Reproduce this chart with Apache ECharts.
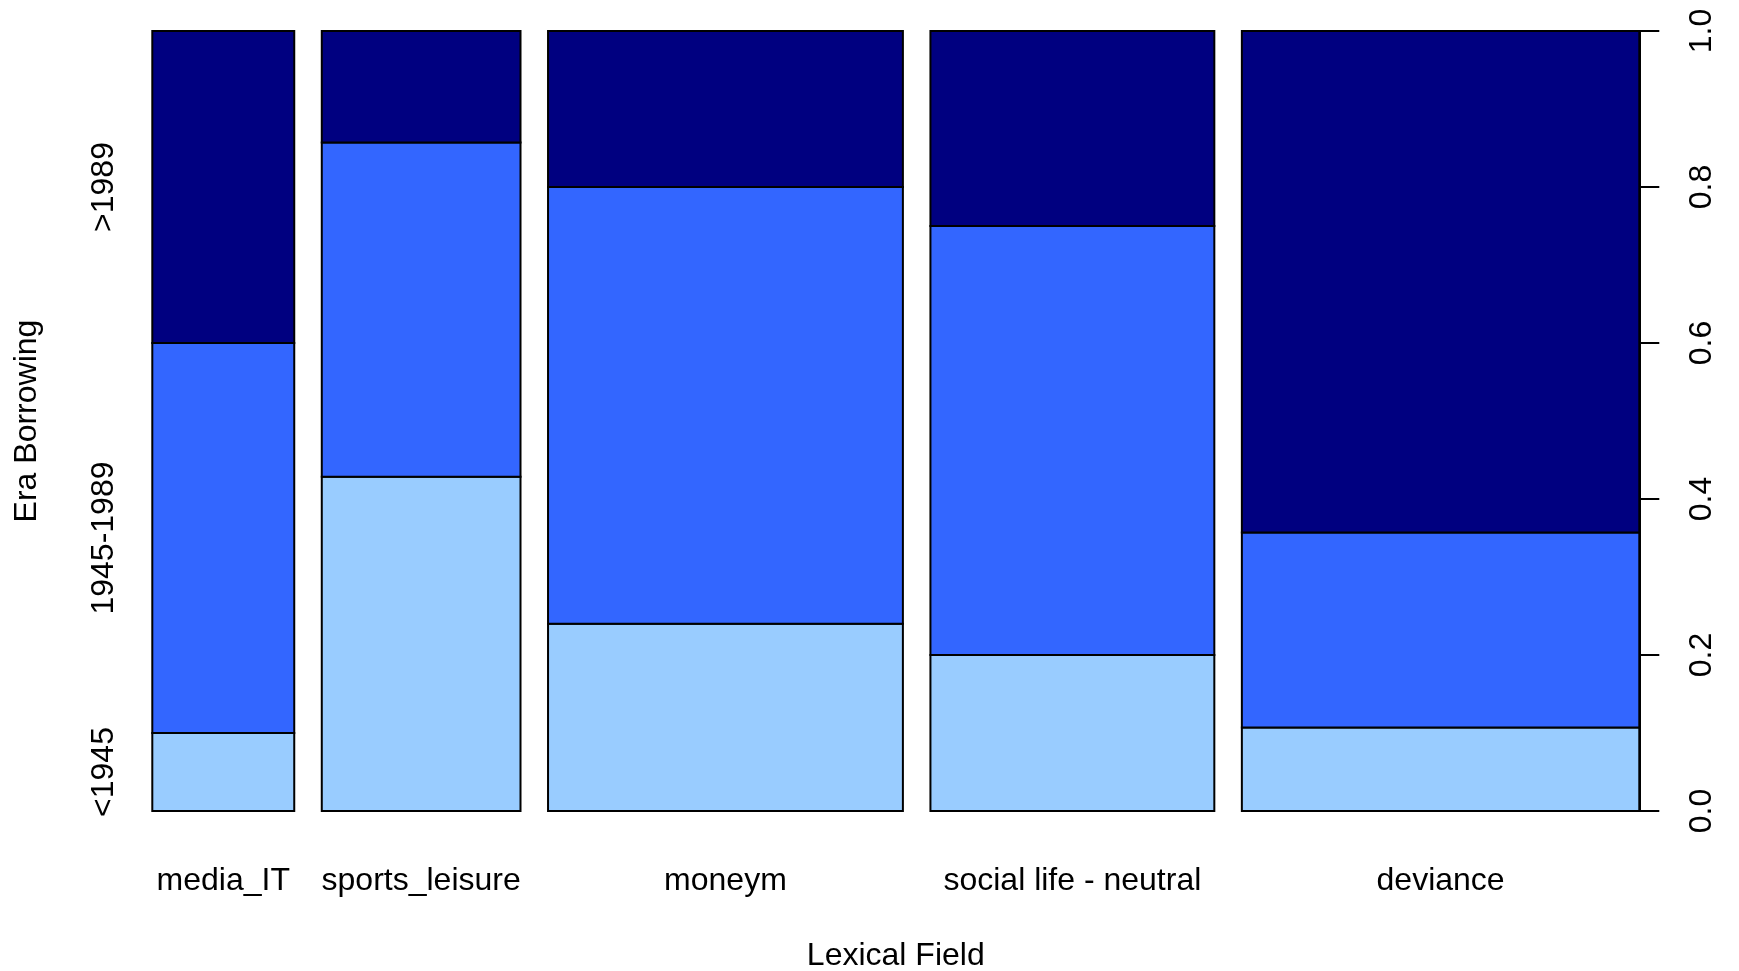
<!DOCTYPE html>
<html>
<head>
<meta charset="utf-8">
<title>Era Borrowing by Lexical Field</title>
<script src="https://cdn.jsdelivr.net/npm/echarts@6/dist/echarts.min.js"></script>
<style>
  html, body { margin: 0; padding: 0; background: #ffffff; }
  #chart { width: 1739px; height: 971px; }
</style>
</head>
<body>
<div id="chart"></div>
<script>
// Lexical fields (x categories) and borrowing eras (stacked levels, bottom to top)
const fields = ['media_IT', 'sports_leisure', 'moneym', 'social life - neutral', 'deviance'];
const eras = ['<1945', '1945-1989', '>1989'];

// Word counts per field for each era
const countsPre1945 = [1, 6, 6, 4, 3];
const counts1945to1989 = [5, 6, 14, 11, 7];
const countsPost1989 = [4, 2, 5, 5, 18];

// Right-hand proportion axis ticks
const yTicks = [0, 0.2, 0.4, 0.6, 0.8, 1.0];

// Styling
const eraColors = ['#99CCFF', '#3366FF', '#000080'];
const FONT = '"Liberation Sans", Arial, Helvetica, sans-serif';
const FS = 32;
const gap = 0.02; // spacing between spines, as a fraction of the total width

// Build spine rectangles: widths proportional to field totals, heights to era shares
const eraCounts = [countsPre1945, counts1945to1989, countsPost1989];
const totals = fields.map((_, i) => eraCounts.reduce((s, arr) => s + arr[i], 0));
const grand = totals.reduce((a, b) => a + b, 0);

const rects = [];
const centers = [];
let cum = 0;
fields.forEach((f, i) => {
  const x0 = cum + i * gap;
  const x1 = x0 + totals[i] / grand;
  centers.push((x0 + x1) / 2);
  let y = 0;
  eraCounts.forEach((arr, e) => {
    const h = arr[i] / totals[i];
    rects.push([x0, x1, y, y + h, e]);
    y += h;
  });
  cum += totals[i] / grand;
});
const xMax = 1 + gap * (fields.length - 1);

// Era labels sit at the middle of each segment of the first spine
const eraMids = [];
{
  let y = 0;
  eraCounts.forEach(arr => {
    const h = arr[0] / totals[0];
    eraMids.push(y + h / 2);
    y += h;
  });
}

function nearestIndex(list, v) {
  let best = 0;
  list.forEach((c, i) => { if (Math.abs(c - v) < Math.abs(list[best] - v)) best = i; });
  return best;
}

const chart = echarts.init(document.getElementById('chart'), null, { renderer: 'canvas' });

chart.setOption({
  animation: false,
  backgroundColor: '#ffffff',
  textStyle: { fontFamily: FONT, color: '#000' },
  grid: {
    left: 152.3, right: 99.7, top: 31, bottom: 160,
    containLabel: false,
    outerBoundsMode: 'none'
  },
  xAxis: {
    type: 'value',
    min: 0,
    max: xMax,
    axisLine: { show: false },
    axisTick: { show: false },
    splitLine: { show: false },
    axisLabel: {
      customValues: centers,
      formatter: v => fields[nearestIndex(centers, v)],
      fontSize: FS,
      fontFamily: FONT,
      color: '#000',
      margin: 54
    },
    name: 'Lexical Field',
    nameLocation: 'middle',
    nameGap: 129,
    nameTextStyle: { fontSize: FS, fontFamily: FONT, color: '#000' }
  },
  yAxis: [
    {
      type: 'value',
      position: 'left',
      min: 0,
      max: 1,
      axisLine: { show: false },
      axisTick: { show: false },
      splitLine: { show: false },
      axisLabel: {
        customValues: eraMids,
        formatter: v => eras[nearestIndex(eraMids, v)],
        rotate: 90,
        fontSize: FS,
        fontFamily: FONT,
        color: '#000',
        margin: 32
      },
      name: 'Era Borrowing',
      nameLocation: 'middle',
      nameRotate: 90,
      nameGap: 109,
      nameTextStyle: { fontSize: FS, fontFamily: FONT, color: '#000' }
    },
    {
      type: 'value',
      position: 'right',
      min: 0,
      max: 1,
      interval: 0.2,
      axisLine: { show: true, lineStyle: { color: '#000', width: 2 } },
      axisTick: { show: true, inside: false, length: 20, lineStyle: { color: '#000', width: 2 } },
      splitLine: { show: false },
      axisLabel: {
        customValues: yTicks,
        formatter: v => v.toFixed(1),
        rotate: 90,
        fontSize: FS,
        fontFamily: FONT,
        color: '#000',
        margin: 47
      }
    }
  ],
  series: [{
    type: 'custom',
    clip: false,
    encode: { x: [0, 1], y: [2, 3] },
    data: rects,
    renderItem: (params, api) => {
      const p0 = api.coord([api.value(0), api.value(3)]);
      const p1 = api.coord([api.value(1), api.value(2)]);
      return {
        type: 'rect',
        shape: { x: p0[0], y: p0[1], width: p1[0] - p0[0], height: p1[1] - p0[1] },
        style: { fill: eraColors[api.value(4)], stroke: '#000', lineWidth: 2 }
      };
    }
  }]
});
</script>
</body>
</html>
